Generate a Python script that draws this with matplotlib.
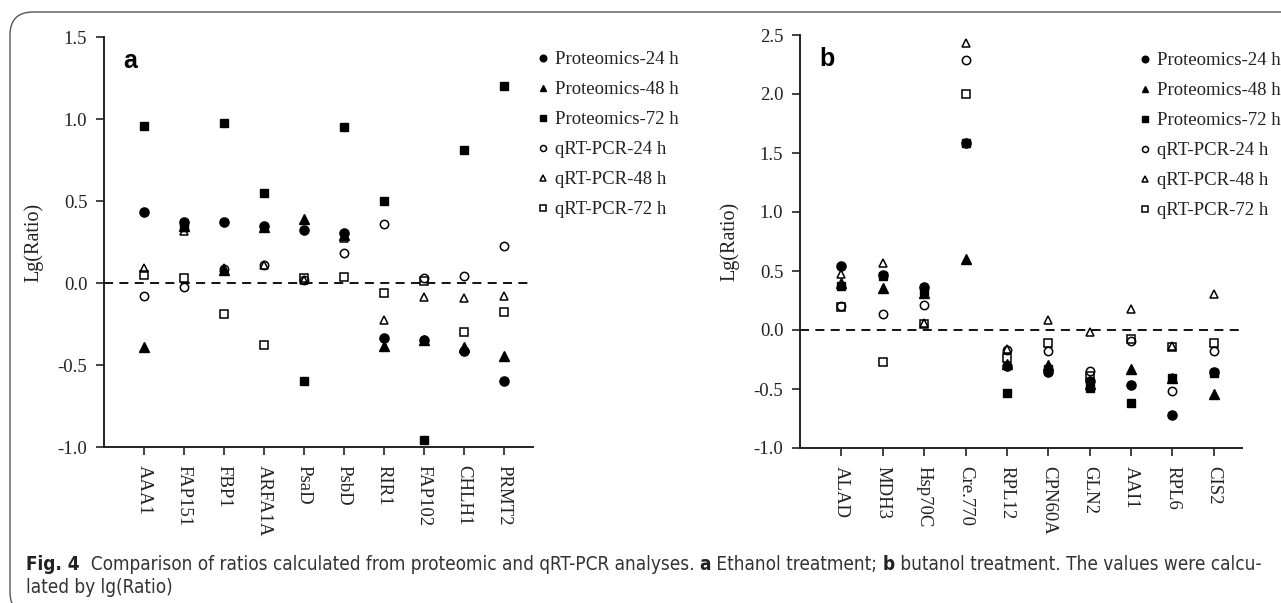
import matplotlib
matplotlib.use("Agg")
import matplotlib.pyplot as plt
from matplotlib import font_manager
from matplotlib.patches import FancyBboxPatch

plt.rcParams['axes.unicode_minus'] = False

# ---- data ----
genes_a = ['AAA1', 'FAP151', 'FBP1', 'ARFA1A', 'PsaD', 'PsbD', 'RIR1', 'FAP102', 'CHLH1', 'PRMT2']
prot24_a = [0.43, 0.37, 0.37, 0.345, 0.325, 0.305, -0.335, -0.346, -0.415, -0.60]
prot48_a = [-0.39, 0.35, 0.08, 0.34, 0.39, 0.29, -0.386, -0.35, -0.39, -0.443]
prot72_a = [0.96, 0.34, 0.976, 0.549, -0.60, 0.949, 0.498, -0.955, 0.813, 1.203]
qpcr24_a = [-0.08, -0.025, 0.085, 0.11, 0.02, 0.18, 0.362, 0.03, 0.04, 0.227]
qpcr48_a = [0.09, 0.32, 0.09, 0.11, 0.02, 0.274, -0.224, -0.085, -0.091, -0.077]
qpcr72_a = [0.05, 0.03, -0.19, -0.38, 0.028, 0.038, -0.061, 0.01, -0.299, -0.177]

genes_b = ['ALAD', 'MDH3', 'Hsp70C', 'Cre.770', 'RPL12', 'CPN60A', 'GLN2', 'AAI1', 'RPL6', 'CIS2']
prot24_b = [0.542, 0.464, 0.364, 1.588, -0.305, -0.356, -0.43, -0.466, -0.723, -0.36]
prot48_b = [0.40, 0.359, 0.311, 0.599, -0.29, -0.30, -0.46, -0.333, -0.41, -0.539]
prot72_b = [0.373, 0.46, 0.33, 1.588, -0.536, -0.33, -0.488, -0.616, -0.409, -0.361]
qpcr24_b = [0.20, 0.133, 0.212, 2.288, -0.17, -0.178, -0.347, -0.093, -0.52, -0.178]
qpcr48_b = [0.472, 0.565, 0.06, 2.435, -0.16, 0.085, -0.017, 0.175, -0.136, 0.302]
qpcr72_b = [0.198, -0.268, 0.05, 1.997, -0.234, -0.107, -0.39, -0.08, -0.14, -0.113]

labels = ['Proteomics-24 h', 'Proteomics-48 h', 'Proteomics-72 h',
          'qRT-PCR-24 h', 'qRT-PCR-48 h', 'qRT-PCR-72 h']
markers = ['o', '^', 's', 'o', '^', 's']
filled = [True, True, True, False, False, False]

serif = 'Liberation Serif'
W, H = 1281, 603
fig = plt.figure(figsize=(W / 100, H / 100), dpi=100)


def px_axes(left, top, right, bottom):
    return fig.add_axes([left / W, 1 - bottom / H, (right - left) / W, (bottom - top) / H])


def draw_panel(ax, genes, series, ylim, yticks, xmax, letter, leg_xy):
    x = list(range(1, len(genes) + 1))
    for vals, m, f, lab in zip(series, markers, filled, labels):
        ms = 6.0 if m == 's' else 6.6
        if f:
            ax.plot(x, vals, ls='none', marker=m, ms=ms, mfc='black', mec='black', label=lab, zorder=3)
        else:
            ax.plot(x, vals, ls='none', marker=m, ms=ms - 0.6, mfc='none', mec='black', mew=1.1,
                    label=lab, zorder=4)
    ax.axhline(0, color='black', lw=1.3, ls=(0, (5, 3.5)), zorder=1)
    ax.set_xlim(0, xmax)
    ax.set_ylim(*ylim)
    ax.set_yticks(yticks)
    ax.set_yticklabels(['%.1f' % t for t in yticks], fontfamily=serif, fontsize=13.5, color='#222222')
    ax.set_xticks(x)
    ax.set_xticklabels(genes, rotation=-90, fontfamily=serif, fontsize=13.5, color='#222222',
                       va='top', ha='center')
    ax.tick_params(axis='both', direction='out', length=6, width=1.2, color='#222222')
    ax.tick_params(axis='x', pad=7)
    ax.tick_params(axis='y', pad=6)
    for s in ['top', 'right']:
        ax.spines[s].set_visible(False)
    for s in ['left', 'bottom']:
        ax.spines[s].set_linewidth(1.4)
        ax.spines[s].set_color('#222222')
    ax.set_ylabel('Lg(Ratio)', fontfamily=serif, fontsize=14.5, color='#222222', labelpad=10)
    ax.text(0.06, 0.97, letter, transform=ax.transAxes, fontfamily='Liberation Sans',
            fontweight='bold', fontsize=18, ha='center', va='top')
    leg = ax.legend(loc='upper left', bbox_to_anchor=(leg_xy[0] / W, 1 - leg_xy[1] / H),
                    bbox_transform=fig.transFigure, frameon=False, markerscale=0.72,
                    handlelength=0.6, handletextpad=0.35, labelspacing=0.69, borderpad=0,
                    borderaxespad=0, prop={'family': serif, 'size': 13.5})
    for t in leg.get_texts():
        t.set_color('#222222')


ax_a = px_axes(104, 37, 533, 447)
draw_panel(ax_a, genes_a, [prot24_a, prot48_a, prot72_a, qpcr24_a, qpcr48_a, qpcr72_a],
           (-1.0, 1.5), [-1.0, -0.5, 0.0, 0.5, 1.0, 1.5], 10.725, 'a', (537, 51))

ax_b = px_axes(800, 35, 1242, 448)
draw_panel(ax_b, genes_b, [prot24_b, prot48_b, prot72_b, qpcr24_b, qpcr48_b, qpcr72_b],
           (-1.0, 2.5), [-1.0, -0.5, 0.0, 0.5, 1.0, 1.5, 2.0, 2.5], 10.68, 'b', (1139, 52))

# ---- outer frame (top and left edges, rounded corner) ----
frame = FancyBboxPatch((10 / W, -0.02), 1.1, 1 - 12 / H + 0.02,
                       boxstyle='round,pad=0,rounding_size=0.018', transform=fig.transFigure,
                       fill=False, ec='#555555', lw=1.0, clip_on=False,
                       mutation_aspect=W / H)
fig.patches.append(frame)

# ---- caption ----
names = {f.name for f in font_manager.fontManager.ttflist}
cap_font = 'Liberation Sans Narrow' if 'Liberation Sans Narrow' in names else 'DejaVu Sans'
cap_stretch = 'normal' if cap_font == 'Liberation Sans Narrow' else 'condensed'
cap_color = '#333333'

line1 = [('Fig. 4', 'bold', '#222222'),
         ('  Comparison of ratios calculated from proteomic and qRT-PCR analyses. ', 'normal', cap_color),
         ('a', 'bold', '#222222'),
         (' Ethanol treatment; ', 'normal', cap_color),
         ('b', 'bold', '#222222'),
         (' butanol treatment. The values were calcu-', 'normal', cap_color)]
line2 = [('lated by lg(Ratio)', 'normal', cap_color)]


def draw_line(parts, x0, y, size):
    renderer = fig.canvas.get_renderer()
    x = x0
    objs = []
    for txt, wt, col in parts:
        t = fig.text(x / W, 1 - y / H, txt, fontfamily=cap_font, fontweight=wt, fontsize=size,
                     fontstretch=cap_stretch, color=col, ha='left', va='baseline')
        bb = t.get_window_extent(renderer)
        x += bb.width
        objs.append(t)
    return objs, x - x0


# fit the first caption line to the width seen in the reference
objs, width = draw_line(line1, 26, 570, 12)
for o in objs:
    o.remove()
size = 12 * (1237 / width)
draw_line(line1, 26, 570, size)
draw_line(line2, 26, 593, size)

fig.savefig('out.png', dpi=100)
